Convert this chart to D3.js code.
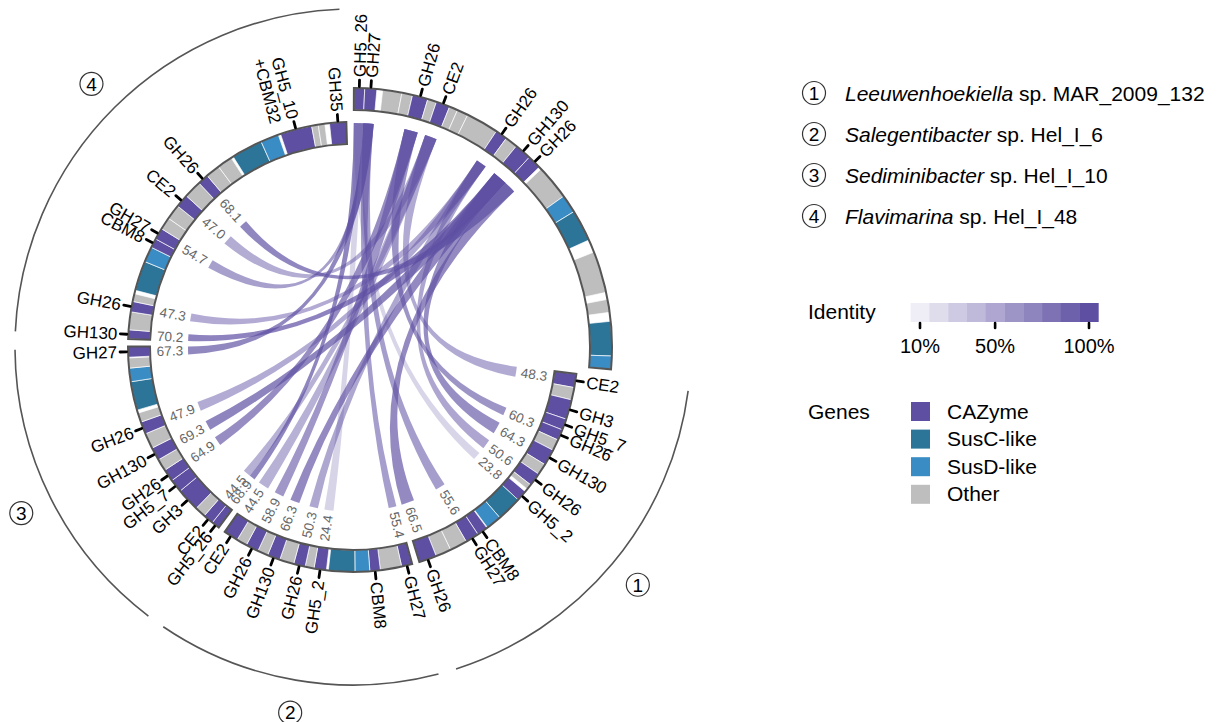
<!DOCTYPE html>
<html>
<head>
<meta charset="utf-8">
<script src="https://cdn.jsdelivr.net/npm/d3@7"></script>
<style>
  body { margin: 0; background: #ffffff; }
  svg { display: block; font-family: "Liberation Sans", Arial, Helvetica, sans-serif; }
</style>
</head>
<body>
<svg id="chart" width="1222" height="722"></svg>
<script>
// ---------------------------------------------------------------------------
// Data
// ---------------------------------------------------------------------------
// Sector 0 is the reference PUL (outer ring); sectors 1-4 are the compared PULs.
const sectorIds = ["ref", "1", "2", "3", "4"];
const sectorLengths = [37.9, 26.4, 20.0, 21.4, 34.5]; // kb

// genes: [start kb, end kb, class, label]
const refGenes = [
  [0.00, 0.96, "CAZyme", "GH5_26"],
  [0.96, 2.04, "CAZyme", "GH27"],
  [2.56, 4.28, "Other", ""],
  [4.28, 5.24, "Other", ""],
  [5.24, 6.64, "CAZyme", "GH26"],
  [6.64, 7.44, "Other", ""],
  [7.44, 8.68, "CAZyme", "CE2"],
  [8.68, 9.44, "Other", ""],
  [9.44, 10.44, "Other", ""],
  [10.44, 13.36, "Other", ""],
  [13.36, 14.44, "CAZyme", "GH26"],
  [14.44, 15.56, "Other", ""],
  [15.56, 17.08, "CAZyme", "GH130"],
  [17.08, 18.32, "CAZyme", "GH26"],
  [18.56, 21.68, "Other", ""],
  [21.68, 23.32, "SusD-like", ""],
  [23.32, 26.16, "SusC-like", ""],
  [27.32, 31.04, "Other", ""],
  [31.68, 32.84, "Other", ""],
  [33.64, 36.72, "SusC-like", ""],
  [36.72, 37.90, "SusD-like", ""]
];

const genes1 = [
  [0.00, 1.42, "CAZyme", "CE2"],
  [1.42, 2.70, "Other", ""],
  [2.70, 4.74, "CAZyme", "GH3"],
  [4.74, 5.90, "CAZyme", "GH5_7"],
  [5.90, 7.02, "CAZyme", "GH26"],
  [7.02, 8.18, "Other", ""],
  [8.18, 9.86, "CAZyme", "GH130"],
  [9.86, 11.02, "Other", ""],
  [11.02, 12.38, "CAZyme", "GH26"],
  [12.38, 12.94, "Other", ""],
  [13.26, 14.38, "CAZyme", "GH5_2"],
  [14.38, 16.98, "SusC-like", ""],
  [16.98, 18.58, "SusD-like", ""],
  [18.66, 19.78, "CAZyme", "CBM8"],
  [19.78, 21.18, "CAZyme", "GH27"],
  [21.18, 22.98, "Other", ""],
  [22.98, 24.58, "Other", ""],
  [24.58, 26.40, "CAZyme", "GH26"]
];

const genes2 = [
  [0.00, 1.10, "CAZyme", "GH27"],
  [1.10, 3.30, "Other", ""],
  [3.30, 4.38, "CAZyme", "CBM8"],
  [4.38, 5.90, "SusD-like", ""],
  [5.90, 8.62, "SusC-like", ""],
  [8.82, 10.10, "CAZyme", "GH5_2"],
  [10.10, 11.02, "Other", ""],
  [11.02, 12.22, "CAZyme", "GH26"],
  [12.22, 13.70, "Other", ""],
  [13.70, 15.02, "CAZyme", "GH130"],
  [15.02, 16.10, "Other", ""],
  [16.10, 17.42, "CAZyme", "GH26"],
  [17.42, 18.50, "Other", ""],
  [18.50, 20.00, "CAZyme", "CE2"]
];

const genes3 = [
  [0.00, 0.82, "CAZyme", "GH5_26"],
  [0.82, 1.90, "CAZyme", "CE2"],
  [1.90, 3.02, "Other", ""],
  [3.02, 5.42, "CAZyme", "GH3"],
  [5.42, 6.78, "CAZyme", "GH5_7"],
  [6.78, 8.06, "CAZyme", "GH26"],
  [8.06, 9.30, "Other", ""],
  [9.30, 10.66, "CAZyme", "GH130"],
  [10.66, 12.26, "Other", ""],
  [12.26, 13.54, "CAZyme", "GH26"],
  [13.54, 14.50, "Other", ""],
  [14.82, 17.78, "SusC-like", ""],
  [17.78, 19.18, "SusD-like", ""],
  [19.18, 20.22, "Other", ""],
  [20.30, 21.40, "CAZyme", "GH27"]
];

const genes4 = [
  [0.00, 0.94, "CAZyme", "GH130"],
  [0.94, 2.78, "Other", ""],
  [2.78, 3.86, "CAZyme", "GH26"],
  [3.86, 4.66, "Other", ""],
  [5.02, 8.10, "SusC-like", ""],
  [8.10, 9.70, "SusD-like", ""],
  [9.70, 10.66, "CAZyme", "CBM8"],
  [10.66, 11.86, "CAZyme", "GH27"],
  [11.86, 13.14, "Other", ""],
  [13.14, 14.70, "Other", ""],
  [14.70, 16.06, "CAZyme", "CE2"],
  [16.06, 17.90, "Other", ""],
  [17.90, 19.02, "CAZyme", "GH26"],
  [19.02, 20.50, "Other", ""],
  [20.50, 22.06, "Other", ""],
  [22.30, 25.54, "SusC-like", ""],
  [25.54, 27.42, "SusD-like", ""],
  [27.66, 30.94, "CAZyme", "GH5_10\n+CBM32"],
  [30.94, 31.62, "Other", ""],
  [31.62, 32.30, "Other", ""],
  [32.78, 34.50, "CAZyme", "GH35"]
];

// homolog links: [sector, gene index in sector, reference gene index, identity %]
const links = [
  [1, 0, 6, 48.3], [1, 4, 4, 60.3], [1, 6, 12, 64.3], [1, 8, 10, 50.6],
  [1, 10, 0, 23.8], [1, 14, 1, 55.6], [1, 17, 13, 66.5],
  [2, 0, 1, 55.4], [2, 5, 0, 24.4], [2, 7, 10, 50.3], [2, 9, 12, 66.3],
  [2, 11, 4, 58.9], [2, 13, 6, 44.5],
  [3, 0, 0, 68.9], [3, 1, 6, 44.5], [3, 5, 4, 64.9], [3, 7, 12, 69.3],
  [3, 9, 10, 47.9], [3, 14, 1, 67.3],
  [4, 0, 12, 70.2], [4, 2, 10, 47.3], [4, 7, 1, 54.7], [4, 10, 6, 47.0],
  [4, 12, 13, 68.1]
];

const speciesGenus = ["Leeuwenhoekiella", "Salegentibacter", "Sediminibacter", "Flavimarina"];
const speciesStrain = [" sp. MAR_2009_132", " sp. Hel_I_6", " sp. Hel_I_10", " sp. Hel_I_48"];

const geneClasses = ["CAZyme", "SusC-like", "SusD-like", "Other"];
const geneColors = ["#5e4fa2", "#2c7599", "#3a8cc4", "#bebebe"];

const identitySteps = [10, 20, 30, 40, 50, 60, 70, 80, 90, 100];
const identityTicks = [10, 50, 100];

// ---------------------------------------------------------------------------
// Layout
// ---------------------------------------------------------------------------
const cx = 353, cy = 347;
const R = {
  refOuter: 259, refInner: 237, refLink: 224,
  outer: 225, inner: 203, link: 165, idLabel: 170,
  speciesArc: 338, badge: 371
};
const gapDeg = 1.9, startDeg = 0.2;
const rad = d => d * Math.PI / 180;
const polar = (r, a) => [r * Math.sin(a), -r * Math.cos(a)];

const geneSets = [refGenes, genes1, genes2, genes3, genes4];
const totalLen = d3.sum(sectorLengths);
const degPerKb = (360 - gapDeg * sectorLengths.length) / totalLen;

let acc = startDeg;
const sectors = sectorIds.map((id, i) => {
  const a0 = acc, a1 = a0 + sectorLengths[i] * degPerKb;
  acc = a1 + gapDeg;
  const isRef = i === 0;
  return {
    id, isRef, genes: geneSets[i], a0: rad(a0), a1: rad(a1),
    scale: d3.scaleLinear().domain([0, sectorLengths[i]]).range([rad(a0), rad(a1)]),
    rOut: isRef ? R.refOuter : R.outer,
    rIn: isRef ? R.refInner : R.inner
  };
});

const color = d3.scaleOrdinal().domain(geneClasses).range(geneColors);
const linkColor = "#5e4fa2";

const svg = d3.select("#chart");
const root = svg.append("g").attr("transform", `translate(${cx},${cy})`);

// ---------------------------------------------------------------------------
// Links (drawn first so the rings sit on top)
// ---------------------------------------------------------------------------
const refSector = sectors[0];
const linkData = links.map(([si, gi, ri, identity]) => {
  const s = sectors[si], gene = s.genes[gi], rg = refGenes[ri];
  return {
    identity,
    mid: s.scale((gene[0] + gene[1]) / 2),
    source: { startAngle: refSector.scale(rg[0]), endAngle: refSector.scale(rg[1]), radius: R.refLink },
    target: { startAngle: s.scale(gene[0]), endAngle: s.scale(gene[1]), radius: R.link }
  };
});

const ribbon = d3.ribbon().radius(d => d.radius);

root.append("g").selectAll("path")
  .data(linkData)
  .join("path")
  .attr("d", ribbon)
  .attr("fill", linkColor)
  .attr("fill-opacity", d => d.identity / 100)
  .attr("stroke", "none");

// identity values at the compared-gene end of each link
function radialText(sel, r, a) {
  const deg = ((a * 180 / Math.PI) % 360 + 360) % 360;
  const right = deg < 180;
  sel.attr("transform", `rotate(${deg - 90}) translate(${r},0)` + (right ? "" : " rotate(180)"))
     .attr("text-anchor", right ? "start" : "end");
}

root.append("g").selectAll("text")
  .data(linkData)
  .join("text")
  .each(function (d) { radialText(d3.select(this), R.idLabel, d.mid); })
  .attr("dy", "0.35em")
  .attr("font-size", 13.5)
  .attr("fill", "#666666")
  .text(d => d.identity.toFixed(1));

// ---------------------------------------------------------------------------
// Gene rings
// ---------------------------------------------------------------------------
const ringArc = d3.arc();

const sectorG = root.append("g").selectAll("g")
  .data(sectors)
  .join("g");

// sector background
sectorG.append("path")
  .attr("d", s => ringArc({ innerRadius: s.rIn, outerRadius: s.rOut, startAngle: s.a0, endAngle: s.a1 }))
  .attr("fill", "#ffffff");

// genes
sectorG.each(function (s) {
  d3.select(this).append("g").selectAll("path")
    .data(s.genes)
    .join("path")
    .attr("d", g => ringArc({
      innerRadius: s.rIn, outerRadius: s.rOut,
      startAngle: s.scale(g[0]), endAngle: s.scale(g[1])
    }))
    .attr("fill", g => color(g[2]))
    .attr("stroke", "#ffffff")
    .attr("stroke-width", 0.8)
    .attr("stroke-opacity", 0.85);
});

// ring outline
sectorG.append("path")
  .attr("d", s => ringArc({ innerRadius: s.rIn, outerRadius: s.rOut, startAngle: s.a0, endAngle: s.a1 }))
  .attr("fill", "none")
  .attr("stroke", "#555555")
  .attr("stroke-width", 2);

// gene ticks and names
sectorG.each(function (s) {
  const labelled = s.genes.filter(g => g[3] !== "");
  const grp = d3.select(this).append("g");
  grp.selectAll("line")
    .data(labelled)
    .join("line")
    .each(function (g) {
      const a = s.scale((g[0] + g[1]) / 2);
      const [x0, y0] = polar(s.rOut + 1.5, a);
      const [x1, y1] = polar(s.rOut + 8, a);
      d3.select(this).attr("x1", x0).attr("y1", y0).attr("x2", x1).attr("y2", y1);
    })
    .attr("stroke", "#000000")
    .attr("stroke-width", 2.8)
    .attr("stroke-linecap", "round");

  grp.selectAll("text")
    .data(labelled)
    .join("text")
    .each(function (g) {
      const t = d3.select(this);
      radialText(t, s.rOut + 11, s.scale((g[0] + g[1]) / 2));
      g[3].split("\n").forEach((line, i) => {
        t.append("tspan").attr("x", 0).attr("dy", i === 0 ? "0.35em" : "1.05em").text(line);
      });
    })
    .attr("font-size", 17)
    .attr("fill", "#000000");
});

// ---------------------------------------------------------------------------
// Species arcs and numbered badges
// ---------------------------------------------------------------------------
const compared = sectors.slice(1);
root.append("g").selectAll("path")
  .data(compared)
  .join("path")
  .attr("d", s => {
    const p = d3.path();
    p.arc(0, 0, R.speciesArc, s.a0 + rad(0.6) - Math.PI / 2, s.a1 - rad(0.6) - Math.PI / 2);
    return p.toString();
  })
  .attr("fill", "none")
  .attr("stroke", "#555555")
  .attr("stroke-width", 1.6);

const badges = root.append("g").selectAll("g")
  .data(compared)
  .join("g")
  .attr("transform", s => {
    const [x, y] = polar(R.badge, (s.a0 + s.a1) / 2);
    return `translate(${x},${y})`;
  });
badges.append("circle").attr("r", 11.5).attr("fill", "#ffffff")
  .attr("stroke", "#333333").attr("stroke-width", 1.2);
badges.append("text").attr("text-anchor", "middle").attr("dy", "0.36em")
  .attr("font-size", 19).attr("fill", "#000000").text(s => s.id);

// ---------------------------------------------------------------------------
// Legends
// ---------------------------------------------------------------------------
const legend = svg.append("g");

// species
const speciesRows = legend.append("g").selectAll("g")
  .data(speciesGenus)
  .join("g")
  .attr("transform", (d, i) => `translate(0,${93 + i * 41})`);
speciesRows.append("circle").attr("cx", 814).attr("r", 11.5)
  .attr("fill", "#ffffff").attr("stroke", "#333333").attr("stroke-width", 1.2);
speciesRows.append("text").attr("x", 814).attr("dy", "0.36em").attr("text-anchor", "middle")
  .attr("font-size", 19).text((d, i) => i + 1);
const spText = speciesRows.append("text").attr("x", 845).attr("dy", "0.36em").attr("font-size", 21);
spText.append("tspan").attr("font-style", "italic").text(d => d);
spText.append("tspan").text((d, i) => speciesStrain[i]);

// identity colour bar
const idX = d3.scaleLinear().domain([10, 100]).range([920, 1089]);
const idFill = v => d3.interpolateRgb("#ffffff", linkColor)(v / 100);
legend.append("text").attr("x", 808).attr("y", 319).attr("font-size", 21).text("Identity");
legend.append("g").selectAll("rect")
  .data(identitySteps)
  .join("rect")
  .attr("x", v => idX(v - 5))
  .attr("width", v => idX(v + 5) - idX(v - 5) + 0.3)
  .attr("y", 303).attr("height", 19)
  .attr("fill", v => idFill(v));
legend.append("g").selectAll("line")
  .data(identityTicks)
  .join("line")
  .attr("x1", v => idX(v)).attr("x2", v => idX(v))
  .attr("y1", 323).attr("y2", 328)
  .attr("stroke", "#000000").attr("stroke-width", 2.6).attr("stroke-linecap", "round");
legend.append("g").selectAll("text")
  .data(identityTicks)
  .join("text")
  .attr("x", v => idX(v)).attr("y", 353)
  .attr("text-anchor", "middle").attr("font-size", 20)
  .text(v => v + "%");

// gene classes
legend.append("text").attr("x", 808).attr("y", 419).attr("font-size", 21).text("Genes");
const geneRows = legend.append("g").selectAll("g")
  .data(geneClasses)
  .join("g")
  .attr("transform", (d, i) => `translate(911,${402 + i * 27.6})`);
geneRows.append("rect").attr("width", 19).attr("height", 19).attr("fill", d => color(d));
geneRows.append("text").attr("x", 36).attr("y", 16.5).attr("font-size", 21).text(d => d);
</script>
</body>
</html>
